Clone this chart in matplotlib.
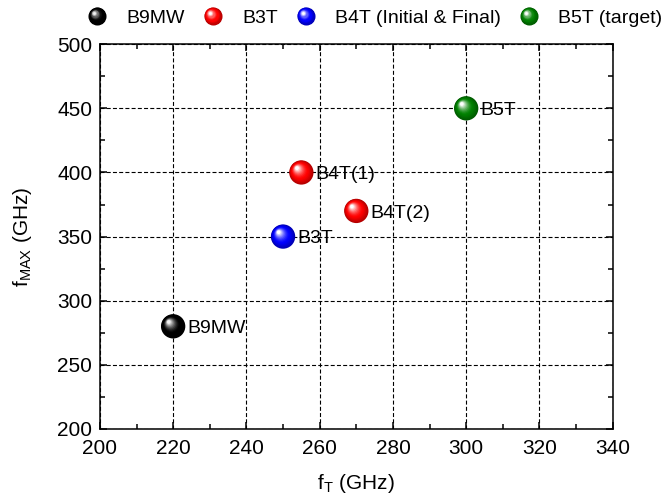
import numpy as np
import matplotlib
matplotlib.use("Agg")
import matplotlib.pyplot as plt
from matplotlib.colors import to_rgb
from matplotlib.lines import Line2D
from matplotlib.legend_handler import HandlerBase
from matplotlib.transforms import offset_copy

plt.rcParams['font.family'] = ['Liberation Sans', 'DejaVu Sans']
plt.rcParams['mathtext.fontset'] = 'custom'
plt.rcParams['mathtext.rm'] = 'Liberation Sans'

# data
ft = [220, 250, 255, 270, 300]
fmax = [280, 350, 400, 370, 450]
point_labels = ['B9MW', 'B3T', 'B4T(1)', 'B4T(2)', 'B5T']
point_colors = ['black', 'blue', 'red', 'red', 'green']

legend_names = ['B9MW', 'B3T', 'B4T (Initial & Final)', 'B5T (target)']
legend_colors = ['black', 'red', 'blue', 'green']


def sphere_layers(color, n=14):
    # shaded ball: (dx, dy, radius fraction, rgb) from outside to highlight
    base = np.array(to_rgb(color))
    dark = base * 0.7
    white = np.ones(3)
    if base.sum() == 0:
        white = np.array([0.95, 0.95, 0.95])
    layers = []
    for k in range(n):
        t = k / (n - 1)
        r = 1 - 0.85 * t
        d = (1 - r) * 0.42
        if t < 0.35:
            w = t / 0.35
            c = dark * (1 - w) + base * w
        else:
            w = ((t - 0.35) / 0.65) ** 1.6
            c = base * (1 - w) + white * w
        layers.append((-d, d, r, c))
    return layers


def draw_sphere(ax, x, y, color, diam=17.5):
    fig = ax.figure
    for dx, dy, r, c in sphere_layers(color):
        tr = offset_copy(ax.transData, fig=fig, x=dx * diam / 2, y=dy * diam / 2, units='points')
        ax.scatter([x], [y], s=(diam * r) ** 2, color=[c], edgecolors='none',
                   transform=tr, zorder=5, clip_on=False)


class SphereHandler(HandlerBase):
    def __init__(self, diam=13.0):
        super().__init__()
        self.diam = diam

    def create_artists(self, legend, orig_handle, xdescent, ydescent, width, height, fontsize, trans):
        cx = width / 2 - xdescent
        cy = height / 2 - ydescent
        arts = []
        for dx, dy, r, c in sphere_layers(orig_handle.get_color()):
            ln = Line2D([cx + dx * self.diam / 2], [cy + dy * self.diam / 2], linestyle='none',
                        marker='o', markersize=self.diam * r, markerfacecolor=c,
                        markeredgecolor='none', transform=trans)
            arts.append(ln)
        return arts


fig = plt.figure(figsize=(6.66, 4.97), dpi=100)
ax = fig.add_axes([0.150, 0.137, 0.770, 0.774])

ax.set_xlim(200, 340)
ax.set_ylim(200, 500)
ax.set_xticks(np.arange(200, 341, 20))
ax.set_yticks(np.arange(200, 501, 50))
ax.set_xticks(np.arange(210, 340, 20), minor=True)
ax.set_yticks(np.arange(225, 500, 50), minor=True)

ax.grid(True, which='major', color='black', linestyle=(0, (3.6, 2)), linewidth=0.8)
ax.set_axisbelow(True)

for i in range(len(ft)):
    draw_sphere(ax, ft[i], fmax[i], point_colors[i])
    ax.annotate(point_labels[i], (ft[i], fmax[i]), xytext=(10, -1.5), textcoords='offset points',
                ha='left', va='center', fontsize=14, zorder=6)

ax.tick_params(which='both', direction='in', top=True, right=True, labelsize=15, width=1.1)
ax.tick_params(which='major', length=5)
ax.tick_params(which='minor', length=3.5)
ax.tick_params(axis='x', which='major', pad=7)
ax.tick_params(axis='y', which='major', pad=5.5)
for sp in ax.spines.values():
    sp.set_linewidth(1.1)

ax.set_xlabel('f$_\\mathregular{T}$ (GHz)', fontsize=15, labelpad=10)
ax.set_ylabel('f$_\\mathregular{MAX}$ (GHz)', fontsize=15, labelpad=17)

handles = [Line2D([], [], color=c) for c in legend_colors]
fig.legend(handles, legend_names, loc='center', bbox_to_anchor=(0.563, 0.964), ncol=4,
           frameon=False, fontsize=14, handlelength=1.0, handletextpad=1.0, columnspacing=0.95,
           handler_map={Line2D: SphereHandler()}, borderaxespad=0, borderpad=0)

fig.savefig('out.png', dpi=100)
